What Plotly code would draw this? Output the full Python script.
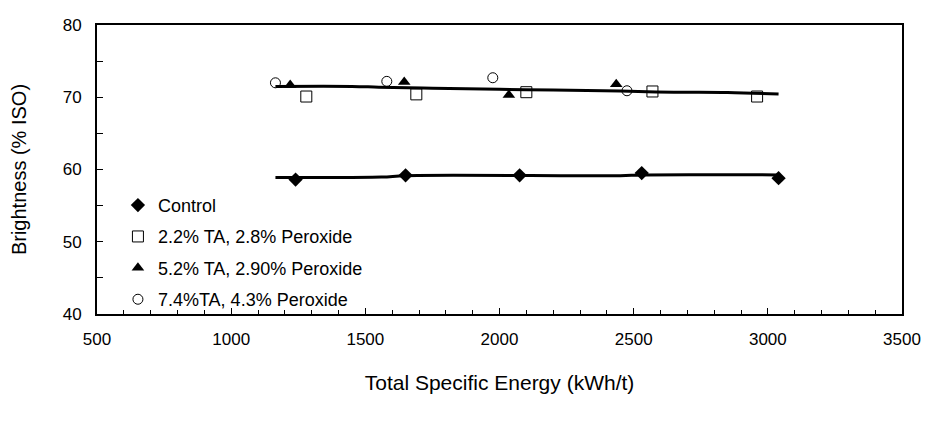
import plotly.graph_objects as go

# measured points
control_x = [1240, 1650, 2075, 2530, 3040]
control_y = [58.6, 59.2, 59.2, 59.5, 58.8]

ta22_x = [1280, 1690, 2100, 2570, 2960]
ta22_y = [70.1, 70.4, 70.7, 70.8, 70.1]

ta52_x = [1220, 1645, 2035, 2435]
ta52_y = [71.7, 72.1, 70.3, 71.8]

ta74_x = [1165, 1580, 1975, 2475]
ta74_y = [72.0, 72.2, 72.7, 70.9]

# hand-drawn trend lines
upper_x = [1165, 1450, 1550, 1750, 2000, 2200, 2450, 2650, 2850, 3040]
upper_y = [71.5, 71.5, 71.4, 71.25, 71.1, 71.0, 70.85, 70.7, 70.65, 70.45]
lower_x = [1165, 1560, 1650, 2450, 2530, 3040]
lower_y = [58.9, 58.95, 59.15, 59.15, 59.25, 59.25]

font = "Liberation Sans, Arial, sans-serif"

fig = go.Figure()

fig.add_trace(go.Scatter(x=upper_x, y=upper_y, mode='lines', line=dict(color='black', width=3, shape='spline'),
                         showlegend=False, hoverinfo='skip'))
fig.add_trace(go.Scatter(x=lower_x, y=lower_y, mode='lines', line=dict(color='black', width=3, shape='spline'),
                         showlegend=False, hoverinfo='skip'))

series = [
    ('Control', control_x, control_y, dict(symbol='diamond', size=11, color='black')),
    ('2.2% TA, 2.8% Peroxide', ta22_x, ta22_y,
     dict(symbol='square-open', size=11, color='black', line=dict(width=1))),
    ('5.2% TA, 2.90% Peroxide', ta52_x, ta52_y, dict(symbol='triangle-up', size=11, color='black')),
    ('7.4%TA, 4.3% Peroxide', ta74_x, ta74_y,
     dict(symbol='circle-open', size=10, color='black', line=dict(width=1))),
]
for i, (name, xs, ys, mk) in enumerate(series):
    fig.add_trace(go.Scatter(x=xs, y=ys, mode='markers', name=name, marker=mk, legendgroup=str(i)))

# page body adds an 8px offset, margins compensate
fig.update_layout(
    width=935, height=427,
    paper_bgcolor='white', plot_bgcolor='white',
    margin=dict(l=89, r=41, t=8, b=121),
    font=dict(family=font, size=17, color='black'),
    legend=dict(x=0.026, y=0.44, xanchor='left', yanchor='top', bgcolor='rgba(0,0,0,0)',
                font=dict(size=18), traceorder='grouped', tracegroupgap=5, itemwidth=30),
    showlegend=True,
)
fig.update_xaxes(
    range=[500, 3500], dtick=500, showgrid=False, zeroline=False,
    showline=True, linecolor='black', linewidth=2, mirror=True,
    ticks='inside', ticklen=6, tickcolor='black', ticklabelstandoff=9,
    ticklabeloverflow='allow',
    minor=dict(dtick=100, ticks='inside', ticklen=4, tickcolor='black'),
    title=dict(text='Total Specific Energy (kWh/t)', font=dict(size=21), standoff=27),
)
fig.update_yaxes(
    range=[40, 80], dtick=10, showgrid=False, zeroline=False,
    showline=True, linecolor='black', linewidth=2, mirror=True,
    ticks='inside', ticklen=6, tickcolor='black', ticklabelstandoff=10,
    ticklabeloverflow='allow',
    minor=dict(dtick=5, ticks='inside', ticklen=6, tickcolor='black'),
    title=dict(text='Brightness (% ISO)', font=dict(size=20), standoff=31),
)

fig.write_html("out.html")
